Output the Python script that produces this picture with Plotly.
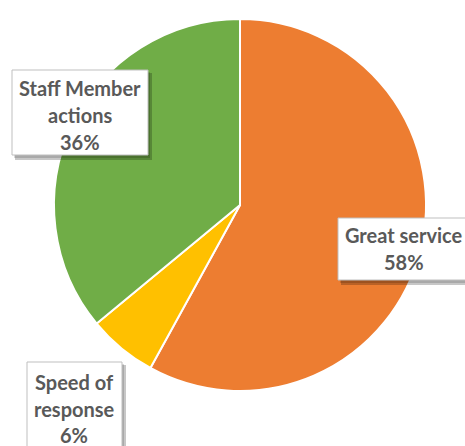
import plotly.graph_objects as go

labels = ["Great service", "Speed of response", "Staff Member actions"]
values = [58, 6, 36]
colors = ["#ED7D31", "#FFC000", "#70AD47"]
label_lines = [["Great service"], ["Speed of", "response"], ["Staff Member", "actions"]]

W, H = 465, 446

def px(x):
    return x / W

def py(y):
    return 1 - y / H

cx, cy, r = 240, 205, 186

fig = go.Figure(go.Pie(
    labels=labels, values=values, sort=False, direction="clockwise", rotation=0,
    marker=dict(colors=colors, line=dict(color="white", width=2)),
    textinfo="none", hoverinfo="skip", showlegend=False,
    domain=dict(x=[px(cx - r), px(cx + r)], y=[py(cy + r), py(cy - r)]),
))

# label box geometry in pixels: (left, top, right, bottom, text center x, first line y, line step)
boxes = [
    (338, 218, 472, 280, 404, 235, 27),
    (27, 362, 122, 450, 74, 382, 26.5),
    (12, 70, 148, 155, 80, 88, 27),
]

shapes = []
annotations = []
total = sum(values)
for i, (l, t, rr, b, tx, ty, step) in enumerate(boxes):
    # shadow
    shapes.append(dict(type="rect", xref="paper", yref="paper", layer="above",
                       x0=px(l + 3), x1=px(rr + 4), y0=py(b + 5), y1=py(t + 3),
                       fillcolor="rgba(0,0,0,0.22)", line=dict(width=0)))
    shapes.append(dict(type="rect", xref="paper", yref="paper", layer="above",
                       x0=px(l + 2), x1=px(rr + 2), y0=py(b + 3), y1=py(t + 2),
                       fillcolor="rgba(0,0,0,0.15)", line=dict(width=0)))
    shapes.append(dict(type="rect", xref="paper", yref="paper", layer="above",
                       x0=px(l), x1=px(rr), y0=py(b), y1=py(t),
                       fillcolor="white", line=dict(color="#BFBFBF", width=1)))
    lines = label_lines[i] + [f"{round(values[i] / total * 100)}%"]
    for k, line in enumerate(lines):
        annotations.append(dict(
            x=px(tx), y=py(ty + k * step), xref="paper", yref="paper",
            text=line, showarrow=False, xanchor="center", yanchor="middle",
            font=dict(family="Lato", size=20, color="#595959", weight="bold"),
        ))

fig.update_layout(
    width=W, height=H, margin=dict(l=0, r=0, t=0, b=0),
    paper_bgcolor="white", plot_bgcolor="white",
    shapes=shapes, annotations=annotations,
)

fig.write_html("out.html")
